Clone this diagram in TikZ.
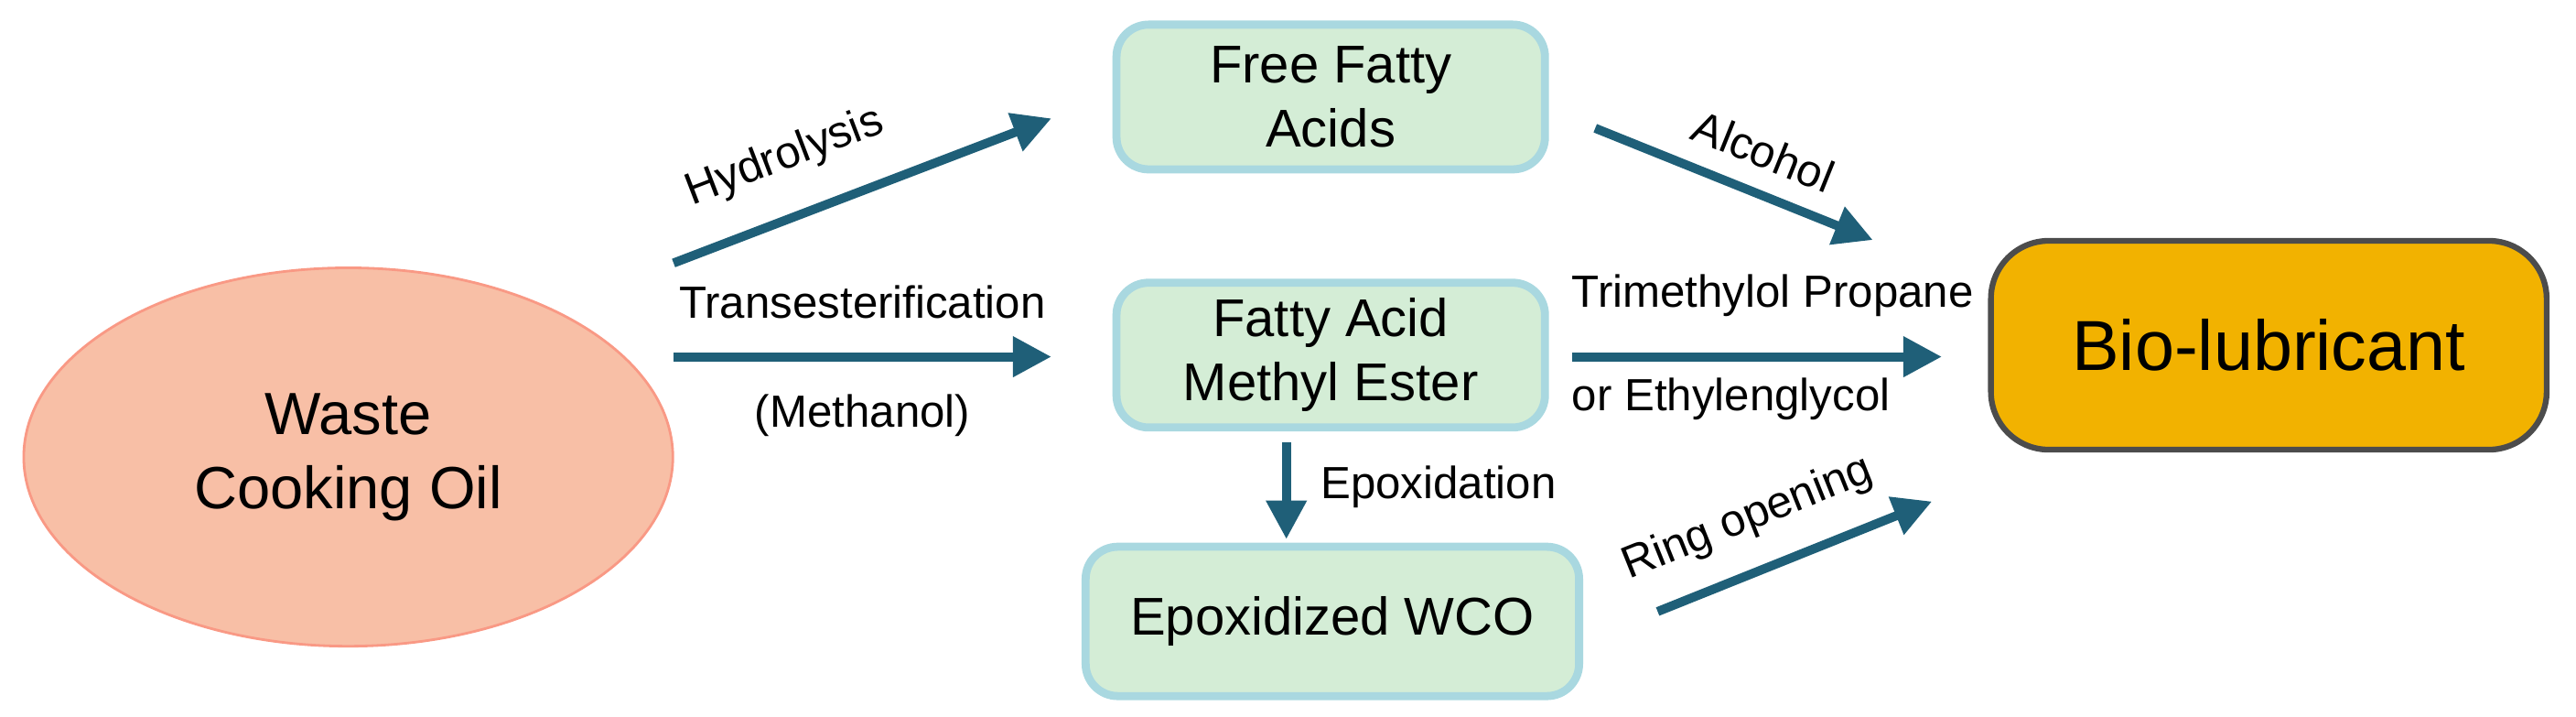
\documentclass[tikz,border=0pt]{standalone}
\usepackage{fontspec}
\setmainfont{Liberation Sans}
\usetikzlibrary{shapes.geometric,arrows.meta}
\definecolor{arr}{HTML}{1F5F78}
\definecolor{boxg}{HTML}{D4EDD6}
\definecolor{boxb}{HTML}{A9D8E0}
\definecolor{oilf}{HTML}{F8BFA6}
\definecolor{orng}{HTML}{F2B200}
\begin{document}
\begin{tikzpicture}[x=0.01795cm,y=-0.01795cm,
  box/.style={draw=boxb,line width=2.5pt,fill=boxg,rounded corners=10pt,minimum width=4.68cm,minimum height=1.58cm,align=center,font=\fontsize{16.5}{20}\selectfont},
  arw/.style={draw=arr,line width=2.8pt,-{Triangle[length=12pt,width=12pt]}},
  lab/.style={font=\fontsize{14}{17}\selectfont}]
\useasboundingbox (0,0) rectangle (1568,435.6);
\node[ellipse,fill=oilf,draw=oilf!80!red,line width=0.8pt,minimum width=7.09cm,minimum height=4.13cm,align=center,font=\fontsize{18.5}{23}\selectfont] (wco) at (212,278) {Waste\\Cooking Oil};
\node[box] (ffa) at (810,59) {Free Fatty\\Acids};
\node[box] (fame) at (810,216) {Fatty Acid\\Methyl Ester};
\node[box,minimum width=5.39cm,minimum height=1.63cm] (ewco) at (811,378) {Epoxidized WCO};
\node[draw=black!70,line width=1.8pt,fill=orng,rounded corners=18pt,minimum width=6.07cm,minimum height=2.28cm,font=\fontsize{22}{26}\selectfont] (bio) at (1381,210) {Bio-lubricant};
\coordinate (h1) at (410,160); \coordinate (h2) at (640,72);
\draw[arw] (h1) -- (h2) node[lab,sloped,above,pos=0.35,yshift=7pt] {Hydrolysis};
\coordinate (t1) at (410,217); \coordinate (t2) at (640,217);
\draw[arw] (t1) -- (t2) node[lab,midway,above,yshift=7pt] {Transesterification} node[lab,midway,below,yshift=-7pt] {(Methanol)};
\coordinate (a1) at (971,78); \coordinate (a2) at (1140,146);
\draw[arw] (a1) -- (a2) node[lab,sloped,above,pos=0.55,yshift=3pt] {Alcohol};
\coordinate (p1) at (957,217); \coordinate (p2) at (1182,217);
\draw[arw] (p1) -- (p2);
\node[lab,anchor=west] (pl1) at (950,180) {Trimethylol Propane};
\node[lab,anchor=west] (pl2) at (950,243) {or Ethylenglycol};
\coordinate (e1) at (783,269); \coordinate (e2) at (783,328);
\draw[arw] (e1) -- (e2);
\node[lab,anchor=west] (el) at (797,296) {Epoxidation};
\coordinate (r1) at (1009,372); \coordinate (r2) at (1176,305);
\draw[arw] (r1) -- (r2) node[lab,sloped,above,pos=0.4,yshift=5pt] {Ring opening};
\end{tikzpicture}
\end{document}
